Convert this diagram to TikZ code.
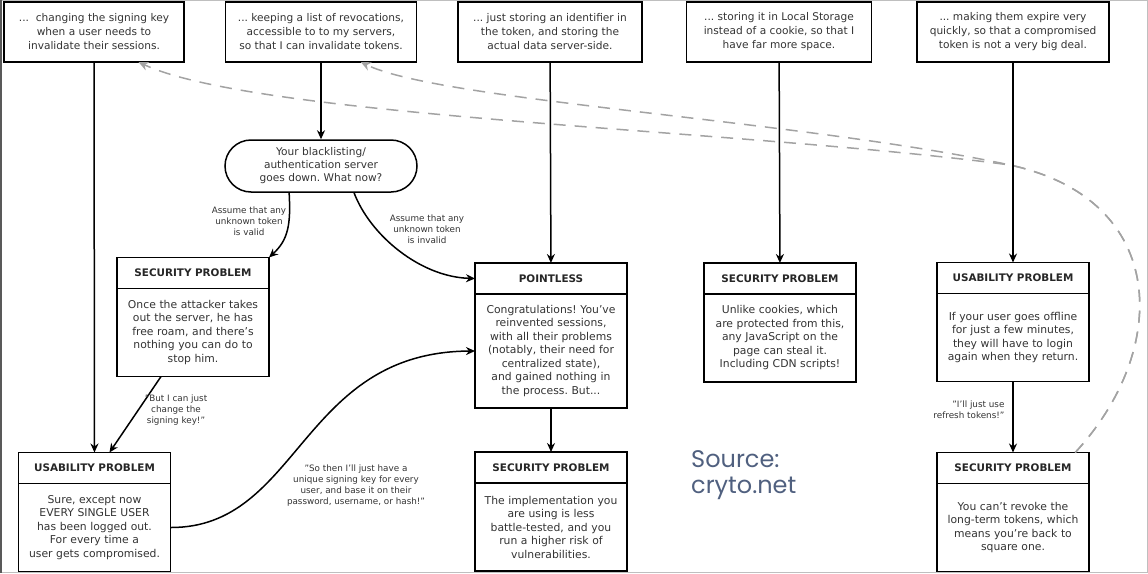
\documentclass[tikz,border=0pt]{standalone}
\usepackage{fontspec}
\setmainfont{DejaVu Sans}
\newfontfamily\srcfont{Poppins}
\usetikzlibrary{arrows.meta,positioning}
\definecolor{txt}{HTML}{333333}
\definecolor{dashgray}{HTML}{A3A3A3}
\definecolor{srcblue}{HTML}{50607F}
\frenchspacing

\begin{document}
\begin{tikzpicture}[x=1pt,y=-1pt,>={Stealth[length=9pt,width=8pt]},
  box/.style={draw,line width=1.5pt,minimum height=60pt,align=center,text=txt,font=\fontsize{10.6}{14}\selectfont,outer sep=0pt},
  head/.style={draw,line width=1.5pt,text width=140pt,inner xsep=6pt,minimum height=31pt,align=center,text=black!85,font=\bfseries\fontsize{10.4}{13}\selectfont,outer sep=0pt},
  body/.style={draw,line width=1.5pt,text width=140pt,inner xsep=6pt,minimum height=88pt,align=center,text=txt,font=\fontsize{10.8}{13.5}\selectfont,outer sep=0pt},
  lbl/.style={align=center,text=txt,font=\fontsize{8.8}{11}\selectfont},
  arr/.style={->,line width=1.5pt},
  back/.style={->,dashgray,line width=1.5pt,dash pattern=on 12pt off 9pt,>={Stealth[length=10pt,width=9pt]}}]
\useasboundingbox (0,0) rectangle (1148,573);
\draw[black!25,line width=1pt] (0.5,0.5) rectangle (1147,572.5);
\draw[black!65,line width=2pt] (1,0) -- (1,573);

\node[box,minimum width=180pt] (t1) at (94,32) {...~ changing the signing key\\when a user needs to\\invalidate their sessions.};
\node[box,minimum width=191pt] (t2) at (321,32) {... keeping a list of revocations,\\accessible to to my servers,\\so that I can invalidate tokens.};
\node[box,minimum width=184pt] (t3) at (550,32) {... just storing an identifier in\\the token, and storing the\\actual data server-side.};
\node[box,minimum width=185pt] (t4) at (779,32) {... storing it in Local Storage\\instead of a cookie, so that I\\have far more space.};
\node[box,minimum width=192pt] (t5) at (1013,32) {... making them expire very\\quickly, so that a compromised\\token is not a very big deal.};

\node[draw,line width=1.5pt,rounded corners=26pt,minimum width=192pt,minimum height=52pt,align=center,text=txt,font=\fontsize{10.6}{13}\selectfont] (server) at (321,166) {Your blacklisting/\\authentication server\\goes down. What now?};

\node[head] (sp1h) at (193,273) {SECURITY PROBLEM};
\node[body,below=0pt of sp1h] (sp1) {Once the attacker takes\\out the server, he has\\free roam, and there's\\nothing you can do to\\stop him.};
\node[head] (pointlessh) at (551,278.5) {POINTLESS};
\node[body,below=0pt of pointlessh,minimum height=114pt] (pointless) {Congratulations! You've\\reinvented sessions,\\with all their problems\\(notably, their need for\\centralized state),\\and gained nothing in\\the process. But...};
\node[head] (sp2h) at (780,278.5) {SECURITY PROBLEM};
\node[body,below=0pt of sp2h] (sp2) {Unlike cookies, which\\are protected from this,\\any JavaScript on the\\page can steal it.\\Including CDN scripts!};
\node[head] (u2h) at (1013,278) {USABILITY PROBLEM};
\node[body,below=0pt of u2h] (u2) {If your user goes offline\\for just a few minutes,\\they will have to login\\again when they return.};

\node[head] (u1h) at (94.5,468) {USABILITY PROBLEM};
\node[body,below=0pt of u1h] (u1) {Sure, except now\\EVERY SINGLE USER\\has been logged out.\\For every time a\\user gets compromised.};
\node[head] (sp3h) at (551,467.5) {SECURITY PROBLEM};
\node[body,below=0pt of sp3h] (sp3) {The implementation you\\are using is less\\battle-tested, and you\\run a higher risk of\\vulnerabilities.};
\node[head] (sp4h) at (1013,468) {SECURITY PROBLEM};
\node[body,below=0pt of sp4h] (sp4) {You can't revoke the\\long-term tokens, which\\means you're back to\\square one.};

\node[anchor=base west,align=left,inner sep=0pt,text=srcblue,font=\srcfont\fontsize{24}{26}\selectfont] (source) at (691,493) {Source:\\cryto.net};

\coordinate (merge) at (1010,165);
\draw[back] (sp4h.14) .. controls (1170,350) and (1170,200) .. (merge) .. controls (750,130) and (258,118) .. (t1.326);
\draw[back] (sp4h.14) .. controls (1170,350) and (1170,200) .. (merge) .. controls (800,120) and (440,101) .. (t2.323);

\draw[arr] (t1) -- (u1h);
\draw[arr] (t2) -- (server);
\draw[arr] (t3) -- (pointlessh);
\draw[arr] (t4) -- (sp2h);
\draw[arr] (t5) -- (u2h);
\draw[arr] (u2) -- (sp4h);
\draw[arr] (pointless) -- (sp3h);
\draw[arr] (server.220) .. controls (291,225) and (288,240) .. (sp1h.north east);
\draw[arr] (server.321) .. controls (370,235) and (420,277) .. (pointlessh.west);
\draw[arr] (sp1.234) -- (u1h.46);
\draw[arr] (u1.east) .. controls (300,528) and (300,352) .. (pointless.west);

\node[lbl] (validlbl) at (249,221) {Assume that any\\unknown token\\is valid};
\node[lbl] (invalidlbl) at (427,229) {Assume that any\\unknown token\\is invalid};
\node[lbl] (changelbl) at (176,410) {"But I can just\\change the\\signing key!"};
\node[lbl] (uniquelbl) at (356,486) {"So then I'll just have a\\unique signing key for every\\user, and base it on their\\password, username, or hash!"};
\node[lbl,anchor=east,align=right] (refreshlbl) at (1008,410) {"I'll just use\\refresh tokens!"};
\end{tikzpicture}
\end{document}
